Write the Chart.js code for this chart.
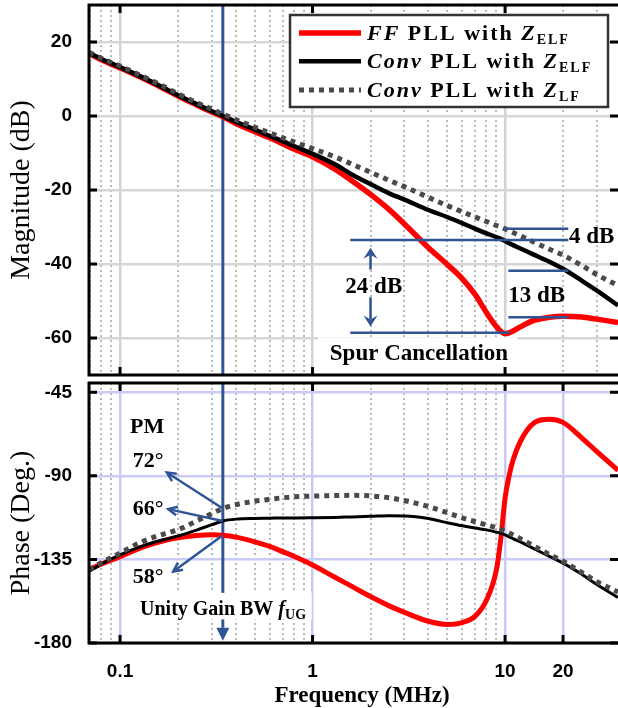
<!DOCTYPE html>
<html>
<head>
<meta charset="utf-8">
<script src="https://cdn.jsdelivr.net/npm/chart.js@4.4.1/dist/chart.umd.min.js"></script>
<style>
  html, body { margin: 0; padding: 0; background: #fff; }
  #wrap { position: relative; width: 618px; height: 708px; }
  canvas { position: absolute; left: 0; }
  #magChart { top: 0; }
  #phaseChart { top: 378px; }
</style>
</head>
<body>
<div id="wrap">
  <canvas id="magChart" width="618" height="378"></canvas>
  <canvas id="phaseChart" width="618" height="330"></canvas>
</div>
<script>
// frequency points (MHz) shared by all curves
var freqMHz = [0.069, 0.08, 0.1, 0.13, 0.17, 0.2, 0.25, 0.3, 0.342, 0.4, 0.5, 0.6, 0.7, 0.8,
  1, 1.3, 1.6, 2, 2.5, 3, 4, 5, 6, 7, 8, 9, 9.5, 10, 10.5, 11, 12, 14, 17, 20, 25, 30, 38.6];

// magnitude (dB)
var magFF = [16.9, 15.2, 13.0, 10.3, 7.3, 5.4, 3.0, 1.1, -0.2, -2.0, -4.2, -5.9, -7.5, -8.9,
  -11.0, -14.3, -17.5, -21.2, -25.3, -29.2, -35.6, -40.1, -44.0, -48.3, -53.1, -56.9,
  -58.2, -58.8, -58.6, -58.1, -57.0, -55.3, -54.4, -54.1, -54.3, -54.9, -55.8];
var magConvELF = [17, 15.4, 13.2, 10.5, 7.5, 5.6, 3.2, 1.3, 0, -1.6, -3.6, -5.4, -6.8, -8.1,
  -10.2, -13.0, -15.8, -18.4, -20.9, -22.6, -25.4, -27.3, -29.0, -30.5, -31.7, -32.7,
  -33.2, -33.8, -34.4, -34.9, -35.8, -37.4, -39.4, -41.3, -44.5, -47.2, -51.2];
var magConvLF = [17.2, 15.6, 13.5, 10.8, 7.9, 6.0, 3.6, 1.8, 0.5, -1.0, -3.0, -4.6, -5.9, -7.0,
  -8.8, -11.0, -13.0, -15.2, -17.4, -19.1, -22.0, -24.2, -25.9, -27.3, -28.5, -29.6,
  -30.0, -30.5, -31.0, -31.5, -32.4, -34.0, -36.0, -37.6, -40.4, -42.9, -45.8];

// phase (deg)
var phFF = [-140.5, -137.5, -133.5, -128.5, -124.8, -123.3, -122.1, -121.7, -122, -123, -125.5, -128, -130.8, -133.3,
  -138, -144.5, -149.5, -155, -160, -163.5, -168.3, -170, -169, -165.5, -157, -141,
  -124, -102, -90, -81.5, -71.5, -61.8, -59.5, -61.2, -69.5, -77, -87];
var phConvELF = [-141.5, -137.5, -132.5, -127.8, -124.3, -122.4, -119.2, -116.3, -114.3, -113.3, -112.9, -112.8, -112.7, -112.7,
  -112.6, -112.4, -112.1, -111.8, -111.5, -111.6, -113, -115.2, -116.9, -118.1, -119.1, -120.3,
  -121, -121.8, -122.8, -123.8, -125.6, -129, -133.4, -137, -143, -148.5, -155.5];
var phConvLF = [-140.5, -136.8, -131.6, -125.5, -121.2, -119, -114.3, -110.3, -107.6, -105.5, -103.7, -102.6, -101.8, -101.3,
  -100.9, -100.6, -100.5, -100.8, -101.8, -103.3, -106.5, -109.8, -112.6, -114.7, -116.4, -118,
  -118.9, -119.8, -120.8, -121.8, -123.8, -127.6, -132.4, -136, -142, -147, -152.5];

var magTicks = [-60, -40, -20, 0, 20];
var phaseTicks = [-180, -135, -90, -45];
var freqLabels = [0.1, 1, 10, 20];
var freqGrid = [0.07, 0.08, 0.09, 0.1, 0.2, 0.3, 0.4, 0.5, 0.6, 0.7, 0.8, 0.9,
  1, 2, 3, 4, 5, 6, 7, 8, 9, 10, 20, 30];
var fUG = 0.342; // unity gain bandwidth

// legend text pieces: i = italic, s = subscript
var seriesNames = [
  [['FF', 'i'], [' PLL with ', ''], ['Z', 'i'], ['ELF', 's']],
  [['Conv', 'i'], [' PLL with ', ''], ['Z', 'i'], ['ELF', 's']],
  [['Conv', 'i'], [' PLL with ', ''], ['Z', 'i'], ['LF', 's']]
];

var BLUE = '#2f5597';
var SERIF = '"Liberation Serif", "Times New Roman", serif';
var SANS = '"Liberation Sans", Arial, sans-serif';

function series(vals, color, width, dash, order) {
  return {
    data: freqMHz.map(function (f, i) { return { x: f, y: vals[i] }; }),
    borderColor: color, borderWidth: width, borderDash: dash, borderCapStyle: 'butt',
    pointRadius: 0, cubicInterpolationMode: 'monotone', fill: false, order: order
  };
}

function pt(chart, f, v) {
  return { x: chart.scales.x.getPixelForValue(f), y: chart.scales.y.getPixelForValue(v) };
}

function seg(c, p, q) {
  c.beginPath(); c.moveTo(p.x, p.y); c.lineTo(q.x, q.y); c.stroke();
}

// filled arrow; notch < 1 gives a stealth shape
function arrow(c, from, to, len, halfW, notch) {
  var dx = to.x - from.x, dy = to.y - from.y, L = Math.hypot(dx, dy);
  var ux = dx / L, uy = dy / L;
  seg(c, from, { x: to.x - ux * len * notch, y: to.y - uy * len * notch });
  var bx = to.x - ux * len, by = to.y - uy * len;
  c.beginPath();
  c.moveTo(to.x, to.y);
  c.lineTo(bx - uy * halfW, by + ux * halfW);
  c.lineTo(to.x - ux * len * notch, to.y - uy * len * notch);
  c.lineTo(bx + uy * halfW, by - ux * halfW);
  c.closePath();
  c.fill();
}

function openArrow(c, from, to, len, ang) {
  seg(c, from, to);
  var a = Math.atan2(from.y - to.y, from.x - to.x);
  c.beginPath();
  c.moveTo(to.x + Math.cos(a + ang) * len, to.y + Math.sin(a + ang) * len);
  c.lineTo(to.x, to.y);
  c.lineTo(to.x + Math.cos(a - ang) * len, to.y + Math.sin(a - ang) * len);
  c.stroke();
}

function drawRich(c, x, y, parts, size, subSize, subDrop) {
  parts.forEach(function (p) {
    var sub = p[1] === 's';
    c.font = (p[1] === 'i' ? 'italic ' : '') + 'bold ' + (sub ? subSize : size) + 'px ' + SERIF;
    c.fillText(p[0], x, sub ? y + subDrop : y);
    x += c.measureText(p[0]).width;
  });
  return x;
}

function drawFrame(chart, xTicks, yTicks) {
  var c = chart.ctx, a = chart.chartArea, tl = 8;
  c.save();
  c.strokeStyle = '#000';
  c.lineWidth = 3;
  c.beginPath();
  c.moveTo(a.right + 3, a.top); c.lineTo(a.left, a.top);
  c.lineTo(a.left, a.bottom); c.lineTo(a.right + 3, a.bottom);
  c.stroke();
  c.beginPath();
  xTicks.forEach(function (f) {
    var x = chart.scales.x.getPixelForValue(f);
    c.moveTo(x, a.top); c.lineTo(x, a.top + tl);
    c.moveTo(x, a.bottom); c.lineTo(x, a.bottom - tl);
  });
  yTicks.forEach(function (v) {
    var y = chart.scales.y.getPixelForValue(v);
    c.moveTo(a.left, y); c.lineTo(a.left + tl, y);
    c.moveTo(a.right, y); c.lineTo(a.right - tl, y);
  });
  c.stroke();
  c.restore();
}

var magNotes = {
  id: 'magNotes',
  beforeDatasetsDraw: function (chart) {
    var c = chart.ctx, a = chart.chartArea;
    var xu = chart.scales.x.getPixelForValue(fUG);
    c.save();
    c.strokeStyle = BLUE; c.lineWidth = 3;
    seg(c, { x: xu, y: a.top }, { x: xu, y: a.bottom });
    // white box behind "Spur Cancellation"
    var p = pt(chart, 1.07, -59.8), q = pt(chart, 11.6, -70);
    c.fillStyle = '#fff';
    c.fillRect(p.x, p.y, q.x - p.x, q.y - p.y);
    c.restore();
  },
  afterDatasetsDraw: function (chart) {
    var c = chart.ctx;
    c.save();
    c.strokeStyle = BLUE; c.fillStyle = BLUE; c.lineWidth = 2.5;
    [[1.57, 21.3, -33.5], [1.57, 10.6, -58.6], [9.8, 21.3, -30.5],
     [10.4, 21.3, -41.8], [10.4, 21.3, -54.4]].forEach(function (h) {
      seg(c, pt(chart, h[0], h[2]), pt(chart, h[1], h[2]));
    });
    arrow(c, pt(chart, 2, -41.5), pt(chart, 2, -35.6), 11, 7, 0.65);
    arrow(c, pt(chart, 2, -49), pt(chart, 2, -56.9), 11, 7, 0.65);

    c.fillStyle = '#000';
    c.font = 'bold 23px ' + SERIF;
    c.textAlign = 'center';
    var t = pt(chart, 2.08, -47.9);
    c.fillText('24 dB', t.x, t.y);
    t = pt(chart, 14.6, -50.4);
    c.fillText('13 dB', t.x, t.y);
    t = pt(chart, 3.57, -65.9);
    c.fillText('Spur Cancellation', t.x, t.y);
    c.textAlign = 'left';
    t = pt(chart, 21.5, -34.2);
    c.fillText('4 dB', t.x, t.y);

    // legend
    c.fillStyle = '#fff';
    c.fillRect(290, 15, 318, 92);
    c.strokeStyle = '#333'; c.lineWidth = 2.5;
    c.strokeRect(290, 15, 318, 92);
    var rows = [33, 61.3, 90];
    chart.data.datasets.forEach(function (ds, i) {
      c.strokeStyle = ds.borderColor;
      c.lineWidth = ds.borderWidth;
      c.setLineDash(ds.borderDash || []);
      seg(c, { x: 299, y: rows[i] }, { x: 361, y: rows[i] });
      c.setLineDash([]);
      c.fillStyle = '#000';
      c.letterSpacing = '2px';
      drawRich(c, 367, rows[i] + 7, seriesNames[i], 22, 14, 4);
      c.letterSpacing = '0px';
    });
    c.restore();
  },
  afterDraw: function (chart) {
    drawFrame(chart, [0.1, 1, 10], magTicks);
  }
};

var phaseNotes = {
  id: 'phaseNotes',
  beforeDatasetsDraw: function (chart) {
    var c = chart.ctx, a = chart.chartArea;
    var xu = chart.scales.x.getPixelForValue(fUG);
    var tip = pt(chart, fUG, -178.8);
    c.save();
    c.strokeStyle = BLUE; c.fillStyle = BLUE; c.lineWidth = 3;
    arrow(c, { x: xu, y: a.top }, tip, 13, 6.5, 1);
    var p = pt(chart, 0.12, -153), q = pt(chart, 0.99, -167.3);
    c.fillStyle = '#fff';
    c.fillRect(p.x, p.y, q.x - p.x, q.y - p.y);
    c.fillStyle = '#000';
    var t = pt(chart, 0.127, -164.8);
    drawRich(c, t.x, t.y, [['Unity Gain BW ', ''], ['f', 'i'], ['UG', 's']], 20, 14, 4);
    c.restore();
  },
  afterDatasetsDraw: function (chart) {
    var c = chart.ctx;
    var k = freqMHz.indexOf(fUG);
    c.save();
    c.strokeStyle = BLUE; c.lineWidth = 2.5;
    openArrow(c, pt(chart, fUG, phConvLF[k]), pt(chart, 0.175, -88.2), 10, 0.45);
    openArrow(c, pt(chart, fUG, phConvELF[k]), pt(chart, 0.178, -107.9), 10, 0.45);
    openArrow(c, pt(chart, fUG, phFF[k]), pt(chart, 0.189, -141.5), 10, 0.45);
    c.fillStyle = '#000';
    c.font = 'bold 22px ' + SERIF;
    var t = pt(chart, 0.1127, -66.7);
    c.fillText('PM', t.x, t.y);
    [['72\u00B0', -85], ['66\u00B0', -111], ['58\u00B0', -147.7]].forEach(function (l) {
      var p = pt(chart, 0.1164, l[1]);
      c.fillText(l[0], p.x, p.y);
    });
    c.restore();
  },
  afterDraw: function (chart) {
    drawFrame(chart, [0.1, 1, 10, 20], phaseTicks);
    // axis titles, placed a little off the scale centres as in the original
    var c = chart.ctx, a = chart.chartArea;
    c.save();
    c.fillStyle = '#000';
    c.textAlign = 'center';
    c.textBaseline = 'middle';
    c.font = 'bold 23px ' + SERIF;
    c.fillText('Frequency (MHz)', 362, chart.height - 12);
    c.translate(22, (a.top + a.bottom) / 2 + 10);
    c.rotate(-Math.PI / 2);
    c.font = '28px ' + SERIF;
    c.fillText('Phase (Deg.)', 0, 0);
    c.restore();
  }
};

function xScale(isBottom) {
  var majors = isBottom ? [0.1, 1, 10, 20] : [0.1, 1, 10];
  return {
    type: 'logarithmic',
    min: 0.069,
    max: 38.6,
    afterBuildTicks: function (s) { s.ticks = freqGrid.map(function (v) { return { value: v }; }); },
    afterFit: function (s) { s.height = isBottom ? 65 : 3; s.paddingLeft = 0; s.paddingRight = 0; },
    ticks: {
      display: isBottom,
      autoSkip: false,
      maxRotation: 0,
      padding: 17,
      color: '#000',
      font: { family: SANS, weight: 'bold', size: 19 },
      callback: function (v) { return freqLabels.indexOf(v) >= 0 ? String(v) : ''; }
    },
    grid: {
      drawTicks: false,
      lineWidth: function (ctx) { return ctx.tick && majors.indexOf(ctx.tick.value) >= 0 ? 2.5 : 2; },
      color: function (ctx) {
        if (!ctx.tick) return '#000';
        if (isBottom && ctx.tick.value === 30) return 'rgba(0,0,0,0)';
        if (majors.indexOf(ctx.tick.value) >= 0) return isBottom ? '#cacaf6' : '#d3d3d3';
        return '#b9b9b9';
      }
    },
    border: {
      display: false,
      dash: function (ctx) { return ctx.tick && majors.indexOf(ctx.tick.value) < 0 ? [2, 3] : []; }
    },
    title: { display: false }
  };
}

function yScale(min, max, ticks, title, gridColor) {
  return {
    min: min,
    max: max,
    afterBuildTicks: function (s) { s.ticks = ticks.map(function (v) { return { value: v }; }); },
    afterFit: function (s) { s.width = 89; s.paddingTop = 0; s.paddingBottom = 0; },
    ticks: { padding: 17, color: '#000', font: { family: SANS, weight: 'bold', size: 19 } },
    grid: { drawTicks: false, color: gridColor, lineWidth: 2.5 },
    border: { display: false },
    title: {
      display: title !== '',
      text: title,
      color: '#000',
      font: { family: SERIF, size: 28, lineHeight: 1.2 },
      padding: { top: 5, bottom: 0 }
    }
  };
}

function commonOptions(isBottom) {
  return {
    responsive: false,
    animation: false,
    devicePixelRatio: 1,
    layout: { padding: { top: 5, left: 0, right: 0, bottom: 0 } },
    plugins: { legend: { display: false }, tooltip: { enabled: false } },
    scales: {
      x: xScale(isBottom),
      y: isBottom
        ? yScale(-180, -40, phaseTicks, '', '#cacaf6')
        : yScale(-70, 30, magTicks, 'Magnitude (dB)', '#d6d6d6')
    }
  };
}

new Chart(document.getElementById('magChart').getContext('2d'), {
  type: 'line',
  data: {
    datasets: [
      series(magFF, '#ff0000', 5.5, [], 3),
      series(magConvELF, '#000000', 4.5, [], 2),
      series(magConvLF, '#4a4a4a', 5, [5, 5], 1)
    ]
  },
  options: commonOptions(false),
  plugins: [magNotes]
});

new Chart(document.getElementById('phaseChart').getContext('2d'), {
  type: 'line',
  data: {
    datasets: [
      series(phFF, '#ff0000', 5, [], 3),
      series(phConvELF, '#000000', 3, [], 2),
      series(phConvLF, '#4a4a4a', 5, [5, 5], 1)
    ]
  },
  options: commonOptions(true),
  plugins: [phaseNotes]
});
</script>
</body>
</html>
